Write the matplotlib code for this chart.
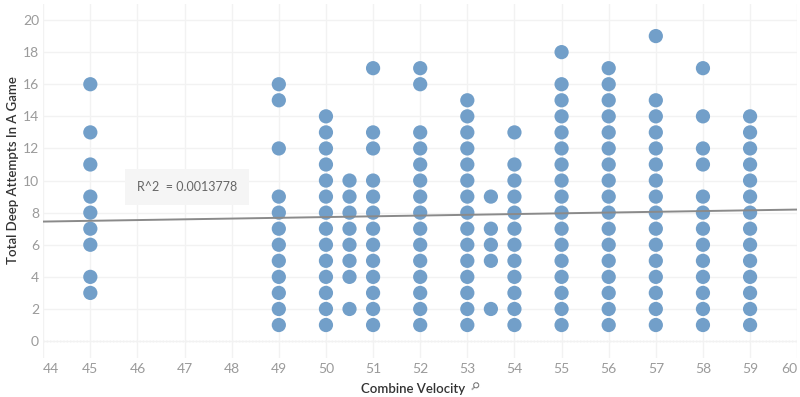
import matplotlib
matplotlib.use("Agg")
import matplotlib.pyplot as plt
import numpy as np

# velocidad -> intentos
velocidades = [45, 49, 50, 50.5, 51, 52, 53, 53.5, 54, 55, 56, 57, 58, 59]
intentos = [
    [16, 13, 11, 9, 8, 7, 6, 4, 3],
    [16, 15, 12, 9, 8, 7, 6, 5, 4, 3, 2, 1],
    [14, 13, 12, 11, 10, 9, 8, 7, 6, 5, 4, 3, 2, 1],
    [10, 9, 8, 7, 6, 5, 4, 2],
    [17, 13, 12, 10, 9, 8, 7, 6, 5, 4, 3, 2, 1],
    [17, 16, 13, 12, 11, 10, 9, 8, 7, 6, 5, 4, 3, 2, 1],
    [15, 14, 13, 12, 11, 10, 9, 8, 7, 6, 5, 4, 3, 2, 1],
    [9, 7, 6, 5, 2],
    [13, 11, 10, 9, 8, 7, 6, 5, 4, 3, 2, 1],
    [18, 16, 15, 14, 13, 12, 11, 10, 9, 8, 7, 6, 5, 4, 3, 2, 1],
    [17, 16, 15, 14, 13, 12, 11, 10, 9, 8, 7, 6, 5, 4, 3, 2, 1],
    [19, 15, 14, 13, 12, 11, 10, 9, 8, 7, 6, 5, 4, 3, 2, 1],
    [17, 14, 12, 11, 9, 8, 7, 6, 5, 4, 3, 2, 1],
    [14, 13, 12, 11, 10, 9, 8, 7, 6, 5, 4, 3, 2, 1],
]
r2_texto = "R^2  = 0.0013778"
x_ticks = list(range(44, 61))
y_ticks = list(range(0, 21, 2))

xs = []
ys = []
for v, lista in zip(velocidades, intentos):
    for i in lista:
        xs.append(v)
        ys.append(i)
xs = np.array(xs, dtype=float)
ys = np.array(ys, dtype=float)

plt.rcParams['font.family'] = ['Lato', 'DejaVu Sans']

fig = plt.figure(figsize=(8, 3.97), dpi=100)
ax = fig.add_axes([0.054, 0.098, 0.9425, 0.892])

ax.scatter(xs, ys, s=105, color='#729fc9', edgecolors='none', zorder=3)

# linea de tendencia
m, b = np.polyfit(xs, ys, 1)
lx = np.array([44, 60])
ax.plot(lx, m * lx + b, color='#8a8a8a', linewidth=1.4, zorder=4)

ax.set_xlim(44, 60)
ax.set_ylim(-1.06, 21)
ax.set_xticks(x_ticks)
ax.set_yticks(y_ticks)
ax.set_xticklabels([str(t) for t in x_ticks])
ax.grid(True, color='#f2f2f2', linewidth=1, zorder=0)
ax.axhline(0, color='#c8c8c8', linestyle=':', linewidth=0.9, zorder=1)
for s in ax.spines.values():
    s.set_visible(False)
ax.tick_params(length=0, colors='#9a9a9a', labelsize=10)
ax.tick_params(axis='x', pad=3.5)
ax.tick_params(axis='y', pad=3)
lbls = ax.get_xticklabels()
lbls[0].set_horizontalalignment('left')
lbls[-1].set_horizontalalignment('right')

fig.text(0.016, 0.572, 'Total Deep Attempts In A Game', fontsize=9.5, color='#333333',
         fontweight='semibold', rotation=90, ha='center', va='center')
fig.text(0.581, 0.006, 'Combine Velocity', fontsize=9.5, color='#333333',
         fontweight='semibold', ha='right', va='bottom')
fig.text(0.584, 0.010, '\u26b2', fontsize=8, color='#666666', rotation=-45,
         ha='left', va='bottom', family=['DejaVu Sans'])

ax.text(47.05, 9.6, r2_texto, fontsize=9, color='#666666', ha='center', va='center',
        zorder=5, bbox=dict(boxstyle='square,pad=0.95', facecolor='#f5f5f5',
                            edgecolor='none'))

fig.savefig('out.png', dpi=100)
